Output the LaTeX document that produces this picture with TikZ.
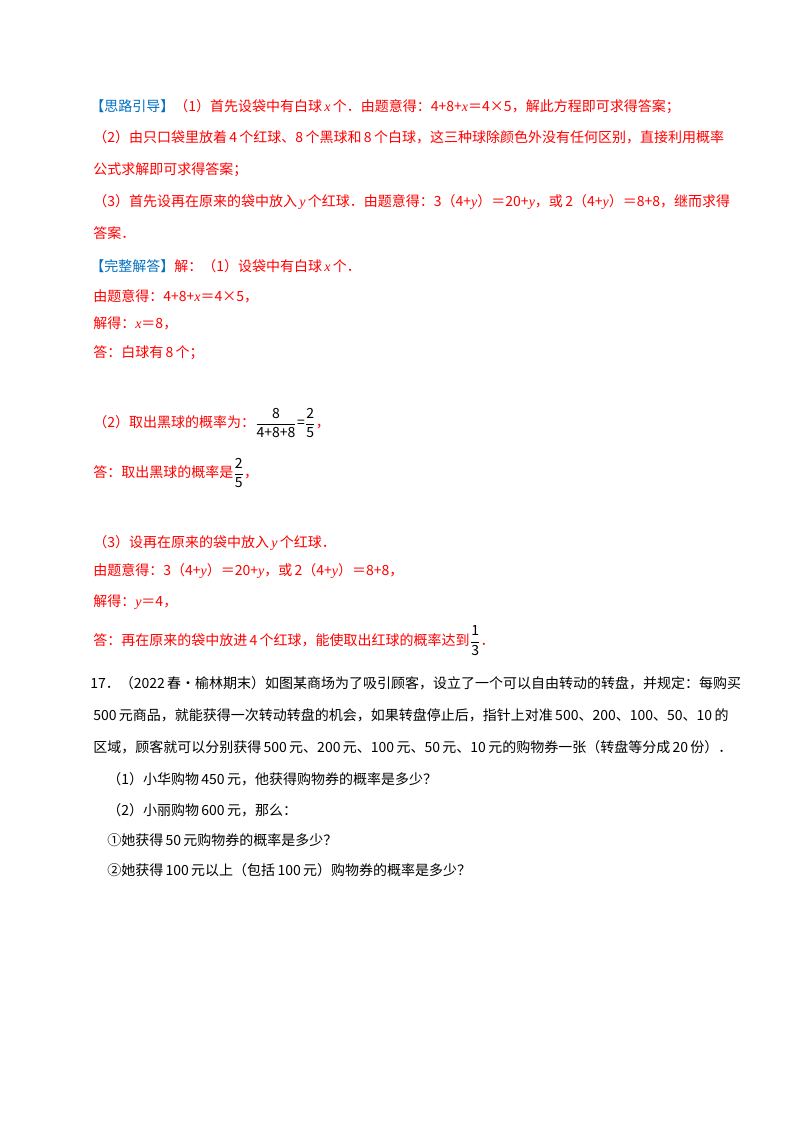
\documentclass[tikz,border=0pt]{standalone}
\usepackage{amsmath}
\usepackage{fontspec}
\setmainfont{Noto Sans CJK SC}
\newfontfamily\lat{Liberation Serif}
\newcommand{\vv}[1]{{\lat\itshape #1}}
\newcommand{\sv}[1]{\,{\lat\itshape #1}\,}
\newcommand{\fr}[2]{\textcolor{black}{$\dfrac{\text{#1}}{\text{#2}}$}}
\definecolor{rd}{RGB}{255,0,0}
\definecolor{bl}{RGB}{0,112,192}
\begin{document}
\begin{tikzpicture}[x=0.75pt,y=-0.75pt,
  t/.style={anchor=west,inner sep=0pt,font=\fontsize{10.5}{12}\selectfont,text=rd},
  k/.style={t,text=black}]
\useasboundingbox (0,0) rectangle (800,1132);
\fill[white] (0,0) rectangle (800,1132);
\node[t] (l1) at (90,107) {\textcolor{bl}{【思路引导】}（1）首先设袋中有白球\sv{x}个．由题意得：4+8+\vv{x}＝4×5，解此方程即可求得答案；};
\node[t] (l2) at (93,137) {（2）由只口袋里放着\,4\,个红球、8\,个黑球和\,8\,个白球，这三种球除颜色外没有任何区别，直接利用概率};
\node[t] (l3) at (93,170) {公式求解即可求得答案；};
\node[t] (l4) at (93,202) {（3）首先设再在原来的袋中放入\sv{y}个红球．由题意得：3（4+\vv{y}）＝20+\vv{y}，或\,2（4+\vv{y}）＝8+8，继而求得};
\node[t] (l5) at (93,233) {答案．};
\node[t] (l6) at (90,266) {\textcolor{bl}{【完整解答】}解：（1）设袋中有白球\sv{x}个．};
\node[t] (l7) at (93,296) {由题意得：4+8+\vv{x}＝4×5，};
\node[t] (l8) at (93,323) {解得：\vv{x}＝8，};
\node[t] (l9) at (93,353) {答：白球有\,8\,个；};
\node[t] (l10) at (93,423) {（2）取出黑球的概率为：\fr{8}{4+8+8}\textcolor{black}{=}\fr{2}{5}，};
\node[t] (l11) at (93,473) {答：取出黑球的概率是\fr{2}{5}，};
\node[t] (l12) at (93,543) {（3）设再在原来的袋中放入\sv{y}个红球．};
\node[t] (l13) at (93,571) {由题意得：3（4+\vv{y}）＝20+\vv{y}，或\,2（4+\vv{y}）＝8+8，};
\node[t] (l14) at (93,602) {解得：\vv{y}＝4，};
\node[t] (l15) at (93,641) {答：再在原来的袋中放进\,4\,个红球，能使取出红球的概率达到\fr{1}{3}．};
\node[k] (q1) at (90,683) {17．（2022\,春•榆林期末）如图某商场为了吸引顾客，设立了一个可以自由转动的转盘，并规定：每购买};
\node[k] (q2) at (93,715) {500\,元商品，就能获得一次转动转盘的机会，如果转盘停止后，指针上对准\,500、200、100、50、10\,的};
\node[k] (q3) at (93,747) {区域，顾客就可以分别获得\,500\,元、200\,元、100\,元、50\,元、10\,元的购物券一张（转盘等分成\,20\,份）．};
\node[k] (q4) at (107,779) {（1）小华购物\,450\,元，他获得购物券的概率是多少？};
\node[k] (q5) at (107,810) {（2）小丽购物\,600\,元，那么：};
\node[k] (q6) at (107,840) {①她获得\,50\,元购物券的概率是多少？};
\node[k] (q7) at (107,870) {②她获得\,100\,元以上（包括\,100\,元）购物券的概率是多少？};
\end{tikzpicture}
\end{document}
